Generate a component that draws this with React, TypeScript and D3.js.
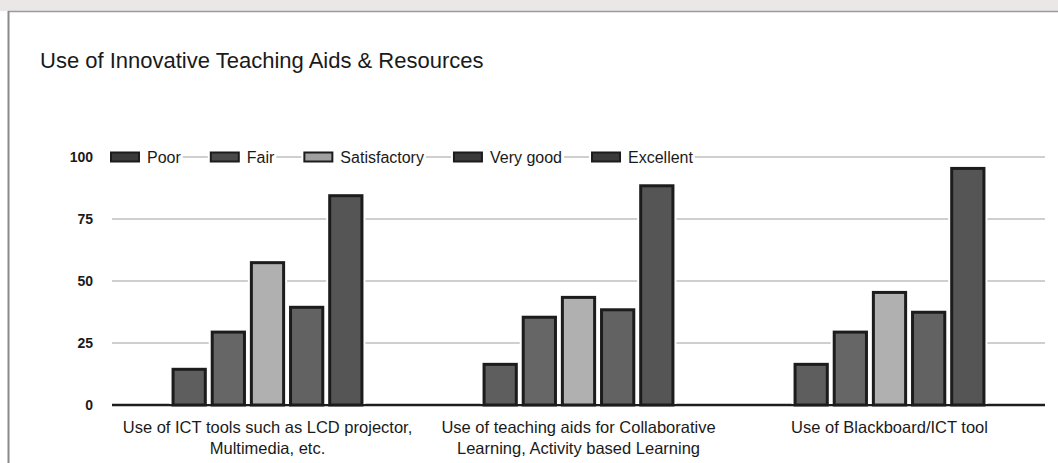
import React, { useEffect, useRef } from "react";
import * as d3 from "d3";

const title = "Use of Innovative Teaching Aids & Resources";
const categoryLines: string[][] = [
  ["Use of ICT tools such as LCD projector,", "Multimedia, etc."],
  ["Use of teaching aids for Collaborative", "Learning, Activity based Learning"],
  ["Use of Blackboard/ICT tool"],
];
const seriesNames = ["Poor", "Fair", "Satisfactory", "Very good", "Excellent"];
const poor = [15, 17, 17];
const fair = [30, 36, 30];
const satisfactory = [58, 44, 46];
const veryGood = [40, 39, 38];
const excellent = [85, 89, 96];
const seriesValues = [poor, fair, satisfactory, veryGood, excellent];
const yTicks = [0, 25, 50, 75, 100];
const fills = ["#5e5e5e", "#666666", "#b0b0b0", "#626262", "#555555"];
const swatchFills = ["#3a3a3a", "#4a4a4a", "#a0a0a0", "#3a3a3a", "#3a3a3a"];

const W = 1058;
const H = 463;
const FONT = "'Liberation Sans', Arial, sans-serif";

export default function App() {
  const ref = useRef<SVGSVGElement>(null);

  useEffect(() => {
    const svg = d3.select(ref.current);
    svg.selectAll("*").remove();

    // background / frame
    svg.append("rect").attr("width", W).attr("height", H).attr("fill", "#ffffff");
    svg.append("rect").attr("x", 0).attr("y", 0).attr("width", W).attr("height", 11).attr("fill", "#ebe7e7");
    svg.append("line").attr("x1", 8).attr("x2", W).attr("y1", 11.5).attr("y2", 11.5).attr("stroke", "#9c9a9a").attr("stroke-width", 1.5);
    svg.append("line").attr("x1", 8.5).attr("x2", 8.5).attr("y1", 11).attr("y2", H).attr("stroke", "#8a8a8a").attr("stroke-width", 2);

    svg.append("text").attr("x", 40).attr("y", 68).attr("font-family", FONT).attr("font-size", 22)
      .attr("fill", "#1a1a1a").text(title);

    const left = 112, right = 1045, top = 157, bottom = 405;
    const y = d3.scaleLinear().domain([0, 100]).range([bottom, top]);
    const catIdx = categoryLines.map((_, i) => String(i));
    const x0 = d3.scaleBand<string>().domain(catIdx).range([left, right]).padding(0);
    const groupW = x0.bandwidth() * 0.617;
    const x1 = d3.scaleBand<string>().domain(seriesNames).range([0, groupW]).paddingInner(0.1).paddingOuter(0);

    // gridlines
    svg.append("g").selectAll("line").data(yTicks.filter((t) => t !== 0)).join("line")
      .attr("x1", left).attr("x2", right)
      .attr("y1", (d) => y(d)).attr("y2", (d) => y(d))
      .attr("stroke", "#a0a0a0").attr("stroke-width", 1.2);

    // y tick labels
    svg.append("g").selectAll("text").data(yTicks).join("text")
      .attr("x", 93).attr("y", (d) => y(d)).attr("dy", "0.35em")
      .attr("text-anchor", "end").attr("font-family", FONT).attr("font-size", 14).attr("font-weight", "bold")
      .attr("fill", "#1a1a1a").text((d) => String(d));

    // baseline
    svg.append("line").attr("x1", left).attr("x2", right).attr("y1", y(0)).attr("y2", y(0))
      .attr("stroke", "#1e1e1e").attr("stroke-width", 2.5);

    // bars
    const groups = svg.append("g").selectAll("g").data(catIdx).join("g")
      .attr("transform", (d) => `translate(${(x0(d) as number) + (x0.bandwidth() - groupW) / 2},0)`);
    const barData = (ci: string) => seriesNames.map((s, si) => ({ s, si, v: seriesValues[si][+ci] }));
    groups.selectAll("rect.halo").data((d) => barData(d)).join("rect").attr("class", "halo")
      .attr("x", (d) => (x1(d.s) as number) - 2).attr("width", x1.bandwidth() + 4)
      .attr("y", (d) => y(d.v) - 3).attr("height", (d) => y(0) - y(d.v) + 2)
      .attr("fill", "#ffffff");
    groups.selectAll("rect.bar").data((d) => barData(d)).join("rect").attr("class", "bar")
      .attr("x", (d) => (x1(d.s) as number) + 1.5).attr("width", x1.bandwidth() - 3)
      .attr("y", (d) => y(d.v) + 1.5).attr("height", (d) => y(0) - y(d.v) - 1.5)
      .attr("fill", (d) => fills[d.si]).attr("stroke", "#1c1c1c").attr("stroke-width", 3);

    // x labels
    const xl = svg.append("g").selectAll("text").data(catIdx).join("text")
      .attr("x", (d) => (x0(d) as number) + x0.bandwidth() / 2).attr("y", 433)
      .attr("text-anchor", "middle").attr("font-family", FONT).attr("font-size", 16.5).attr("fill", "#1a1a1a");
    xl.selectAll("tspan").data((d) => categoryLines[+d]).join("tspan")
      .attr("x", function () { return (this.parentNode as SVGTextElement).getAttribute("x"); })
      .attr("dy", (_, i) => (i === 0 ? 0 : 21)).text((d) => d);

    // legend
    const lg = svg.append("g");
    let lx = 111;
    const ly = y(100);
    seriesNames.forEach((name, i) => {
      const item = lg.append("g");
      const bg = item.append("rect").attr("fill", "#ffffff");
      item.append("rect").attr("x", lx).attr("y", ly - 4.5).attr("width", 28).attr("height", 9)
        .attr("fill", swatchFills[i]).attr("stroke", "#1c1c1c").attr("stroke-width", 2);
      const t = item.append("text").attr("x", lx + 36).attr("y", ly + 5.5).attr("font-family", FONT)
        .attr("font-size", 16).attr("fill", "#1a1a1a").text(name);
      const tw = (t.node() as SVGTextElement).getComputedTextLength();
      bg.attr("x", lx - 3).attr("y", ly - 9).attr("width", 36 + tw + 5).attr("height", 18);
      lx = lx + 36 + tw + 30;
    });
  }, []);

  return (
    <svg ref={ref} width={W} height={H} style={{ position: "fixed", left: 0, top: 0 }} />
  );
}
